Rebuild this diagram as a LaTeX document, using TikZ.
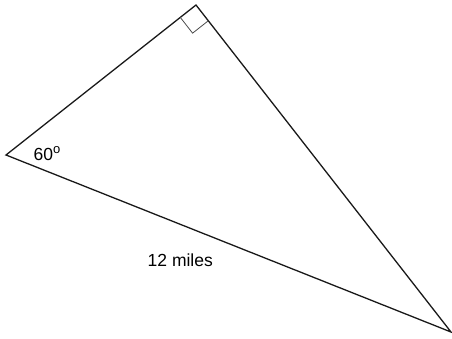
\documentclass[tikz,border=0pt]{standalone}
\usepackage{fontspec}
\setmainfont{Liberation Sans}
\usetikzlibrary{calc}
\begin{document}
\begin{tikzpicture}[x=1pt,y=-1pt,
  edge/.style={line width=1.3pt,black!90,line join=miter},
  marker/.style={line width=0.8pt,black!70},
  lbl/.style={inner sep=0pt,font=\fontsize{17.5}{19}\selectfont}]
\useasboundingbox (0,0) rectangle (452,339);
\coordinate (A) at (6,155);
\coordinate (B) at (196,5);
\coordinate (C) at (451,332);
\draw[edge] (A) -- (B) -- (C) -- cycle;
\coordinate (P) at ($(B)!20pt!(A)$);
\coordinate (Q) at ($(B)!20pt!(C)$);
\coordinate (R) at ($(P)+(Q)-(B)$);
\draw[marker] (P) -- (R) -- (Q);
\node[lbl,anchor=base west] (ang) at (33.5,160.7) {60\raisebox{0.75ex}{\fontsize{13}{14}\selectfont o}};
\node[lbl,anchor=base west] (len) at (147.5,266) {12 miles};
\end{tikzpicture}
\end{document}
